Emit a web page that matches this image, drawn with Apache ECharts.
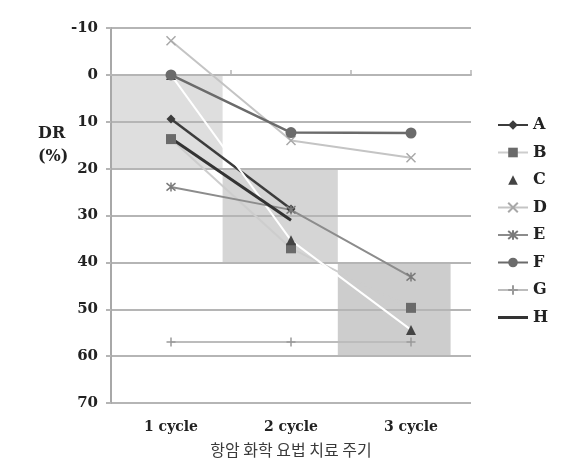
<!DOCTYPE html>
<html>
<head>
<meta charset="utf-8">
<script src="https://cdn.jsdelivr.net/npm/echarts@6/dist/echarts.min.js"></script>
<style>
  html, body { margin: 0; padding: 0; background: #fff; }
  #chart { width: 574px; height: 462px; }
</style>
</head>
<body>
<div id="chart"></div>
<script>
    // 치료 주기
    var cycles = ['1 cycle', '2 cycle', '3 cycle'];
    var yTicks = [-10, 0, 10, 20, 30, 40, 50, 60, 70];

    // DR (%) per patient
    var dataA = [9.4, 28.6, null];
    var dataB = [13.7, 37, 49.7];
    var dataC = [0, 35.3, 54.4];
    var dataD = [-7.3, 14, 17.7];
    var dataE = [23.9, 28.8, 43.1];
    var dataF = [0, 12.3, 12.4];
    var dataG = [57, 57, 57];
    var dataH = [13.5, 31, null];

    // shaded response bands: [x from, x to, DR from, DR to] on a 0..3 band scale
    var shades = [
        [0, 0.93, 0, 20],
        [0.93, 1.89, 20, 40],
        [1.89, 2.83, 40, 60]
    ];
    var shadeColors = ['#dedede', '#d5d5d5', '#cdcdcd'];

    var serif = 'DejaVu Serif';
    var gridColor = '#b5b5b5';

    var xMark = 'path://M0,0L10,10M10,0L0,10';
    var starMark = 'path://M0,0L10,10M10,0L0,10M5,-1L5,11';
    var plusMark = 'path://M5,0L5,10M0,5L10,5';
    var barMark = 'path://M0,0L30,0L30,3L0,3Z';

    function lineSeries(name, data, lineColor, width, symbol, size, symColor, stroked) {
        var s = {
            name: name,
            type: 'line',
            data: data,
            xAxisIndex: 0,
            symbol: symbol,
            symbolSize: size,
            showSymbol: symbol !== 'none',
            lineStyle: { color: lineColor, width: width },
            itemStyle: { color: symColor },
            z: 3
        };
        if (stroked) {
            s.itemStyle = { color: 'rgba(0,0,0,0)', borderColor: symColor, borderWidth: 1.5 };
        }
        return s;
    }

    var series = [
        {
            name: 'shade',
            type: 'line',
            xAxisIndex: 2,
            data: [],
            silent: true,
            z: -1,
            markArea: {
                silent: true,
                z: -1,
                data: shades.map(function (r, i) {
                    return [
                        { xAxis: r[0], yAxis: r[2], itemStyle: { color: shadeColors[i] } },
                        { xAxis: r[1], yAxis: r[3] }
                    ];
                })
            }
        },
        lineSeries('A', dataA, '#3c3c3c', 2.5, 'diamond', 9, '#3c3c3c'),
        lineSeries('B', dataB, '#cdcdcd', 2, 'rect', 10, '#6a6a6a'),
        lineSeries('C', dataC, '#ffffff', 2, 'triangle', 10, '#444444'),
        lineSeries('D', dataD, '#c4c4c4', 2, xMark, 9, '#a8a8a8', true),
        lineSeries('E', dataE, '#8c8c8c', 2, starMark, 9, '#7a7a7a', true),
        lineSeries('F', dataF, '#6b6b6b', 2.5, 'circle', 11, '#6b6b6b'),
        lineSeries('G', dataG, '#bcbcbc', 2, plusMark, 9, '#9a9a9a', true),
        lineSeries('H', dataH, '#333333', 3, 'none', 0, '#333333')
    ];

    var legendNames = ['A', 'B', 'C', 'D', 'E', 'F', 'G'];

    var option = {
        animation: false,
        backgroundColor: '#fff',
        grid: { left: 111, right: 103, top: 28, bottom: 59, outerBoundsMode: 'none' },
        legend: {
            orient: 'vertical',
            left: 492,
            top: 112,
            itemWidth: 30,
            itemHeight: 12,
            itemGap: 11.5,
            data: legendNames.concat([{ name: 'H', icon: barMark, itemStyle: { color: '#333' } }]),
            textStyle: { fontFamily: serif, fontWeight: 'bold', fontSize: 16, color: '#222' }
        },
        graphic: [
            {
                type: 'text',
                left: 38,
                top: 122,
                style: {
                    text: 'DR\n(%)',
                    font: 'bold 16px "DejaVu Serif"',
                    fill: '#222',
                    lineHeight: 23
                }
            }
        ],
        xAxis: [
            {
                type: 'category',
                data: cycles,
                position: 'bottom',
                axisLine: { show: false, onZero: false },
                axisTick: { show: false },
                axisLabel: {
                    margin: 17,
                    fontFamily: serif,
                    fontWeight: 'bold',
                    fontSize: 14,
                    color: '#222'
                },
                name: '항암 화학 요법 치료 주기',
                nameLocation: 'middle',
                nameGap: 39,
                nameTextStyle: { fontFamily: 'Noto Sans CJK KR', fontSize: 16, color: '#3a3a3a' }
            },
            {
                type: 'category',
                data: cycles,
                position: 'bottom',
                axisLine: { show: true, onZero: true, lineStyle: { color: gridColor, width: 2 } },
                axisTick: { show: true, inside: true, length: 5, lineStyle: { color: gridColor, width: 1.5 } },
                axisLabel: { show: false }
            },
            {
                type: 'value',
                min: 0,
                max: 3,
                show: false,
                axisLine: { onZero: false }
            }
        ],
        yAxis: {
            type: 'value',
            inverse: true,
            min: yTicks[0],
            max: yTicks[yTicks.length - 1],
            interval: 10,
            axisLine: { show: true, lineStyle: { color: '#a8a8a8', width: 2 } },
            axisTick: { show: true, length: 5, lineStyle: { color: gridColor, width: 2 } },
            axisLabel: {
                margin: 13,
                fontFamily: serif,
                fontWeight: 'bold',
                fontSize: 15,
                color: '#222'
            },
            splitLine: { show: true, lineStyle: { color: gridColor, width: 2 } }
        },
        series: series
    };

    var chart = echarts.init(document.getElementById('chart'), null, { renderer: 'canvas' });
    chart.setOption(option);
</script>
</body>
</html>
